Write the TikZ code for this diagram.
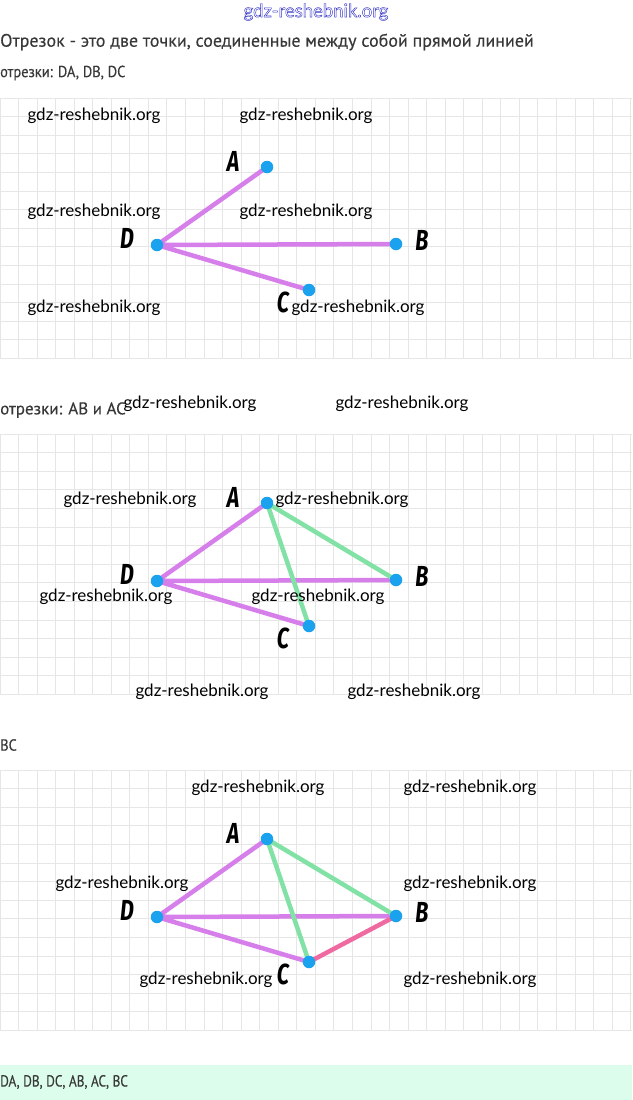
\documentclass[tikz,border=0pt]{standalone}
\usepackage{fontspec}
\setmainfont{Lato}
\newfontfamily\notefont[FakeStretch=0.9,FakeBold=0.3]{PT Sans}
\newfontfamily\widenotefont[FakeStretch=1.0,FakeBold=0.3]{PT Sans}
\newfontfamily\narrownotefont[FakeStretch=0.83,FakeBold=0.3]{PT Sans}
\newfontfamily\ptfont[FakeStretch=0.74]{Fira Sans}
\usetikzlibrary{calc,positioning,backgrounds}

\definecolor{gridgray}{HTML}{E6E6E6}
\definecolor{segviolet}{HTML}{D67FEA}
\definecolor{seggreen}{HTML}{82E2A6}
\definecolor{segpink}{HTML}{F06AA2}
\definecolor{ptblue}{HTML}{1BA2EE}
\definecolor{notegray}{HTML}{383838}
\definecolor{bandgreen}{HTML}{DCFDEC}
\definecolor{wmblue}{HTML}{3535C8}

\tikzset{
  gridline/.style={draw=gridgray, line width=1pt},
  seg/.style={line width=4.5pt, line cap=round},
  pt/.style={circle, fill=ptblue, minimum size=12.5pt, inner sep=0pt},
  ptname/.style={font=\ptfont\bfseries\itshape\fontsize{29}{29}\selectfont, inner sep=0pt},
  wm/.style={font=\fontsize{17}{17}\selectfont, text=black, inner sep=0pt},
  note/.style={font=\notefont\fontsize{16}{16}\selectfont, text=notegray, inner sep=0pt, anchor=west}
}

\begin{document}
\begin{tikzpicture}[x=1pt, y=-1pt]
  \useasboundingbox (0,0) rectangle (632,1100);

  % texts
  \node[font=\fontsize{18.5}{18.5}\selectfont, text=wmblue, inner sep=0pt] (site) at (316,12)
    {\special{pdf:literal direct 1 Tr 0.45 w}gdz-reshebnik.org\special{pdf:literal direct 0 Tr}};
  \node[note, font=\widenotefont\fontsize{18}{18}\selectfont] (def) at (0,42)
    {Отрезок - это две точки, соединенные между собой прямой линией};
  \node[note] (list1) at (0,73) {отрезки: DA, DB, DC};
  \node[note, font=\widenotefont\fontsize{17}{17}\selectfont] (list2) at (0,410) {отрезки: AB и AC};
  \node[note] (list3) at (0,745) {BC};
  \node[note, font=\narrownotefont\fontsize{16}{16}\selectfont] (answer) at (0,1082) {DA, DB, DC, AB, AC, BC};

  % points of the three drawings
  \foreach \i/\dy in {1/0, 2/336, 3/672} {
    \node[pt] (A\i) at (267,167+\dy) {};
    \node[pt] (B\i) at (396,244+\dy) {};
    \node[pt] (C\i) at (309,290+\dy) {};
    \node[pt] (D\i) at (157,245+\dy) {};
    \node[ptname] (nA\i) at ($(A\i)+(-34,-6)$) {A};
    \node[ptname] (nB\i) at ($(B\i)+(26,-4)$) {B};
    \node[ptname] (nC\i) at ($(C\i)+(-26,12)$) {C};
    \node[ptname] (nD\i) at ($(D\i)+(-30,-7)$) {D};
  }

  % watermarks
  \foreach \x/\y [count=\n] in {94/116, 306/116, 94/212, 306/212, 94/308, 358/308,
      190/404, 402/404, 130/500, 342/500, 106/597, 318/597, 202/692, 414/692,
      258/788, 470/788, 122/884, 470/884, 206/980, 470/980}
    \node[wm] (wm\n) at (\x,\y) {gdz-reshebnik.org};

  \begin{scope}[on background layer]
    \fill[bandgreen] (0,1065) rectangle (632,1100);
    % squared paper
    \foreach \top in {98, 434, 770} {
      \foreach \k in {0,...,34}
        \draw[gridline] (\k*18.55,\top) -- (\k*18.55,\top+260.5);
      \foreach \k in {0,...,14}
        \draw[gridline] (0,\top+\k*18.6) -- (632,\top+\k*18.6);
    }
    % segments
    \foreach \i in {1,2,3}
      \draw[seg, segviolet] (D\i.center) -- (A\i.center) (D\i.center) -- (B\i.center) (D\i.center) -- (C\i.center);
    \foreach \i in {2,3}
      \draw[seg, seggreen] (A\i.center) -- (B\i.center) (A\i.center) -- (C\i.center);
    \draw[seg, segpink] (B3.center) -- (C3.center);
  \end{scope}
\end{tikzpicture}
\end{document}
